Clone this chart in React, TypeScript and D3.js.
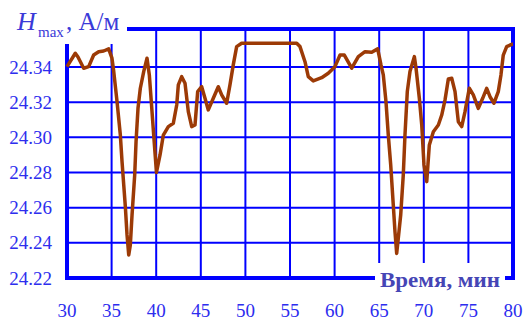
import React from "react";
import * as d3 from "d3";

const times = [30.0, 30.93, 31.23, 31.87, 32.43, 32.99, 33.55, 34.11, 34.67, 35.04,
  35.24, 35.61, 35.98, 36.17, 36.36, 36.54, 36.73, 36.92, 37.10, 37.29,
  37.59, 37.74, 37.96, 38.22, 38.60, 38.97, 39.23, 39.45, 39.72, 40.03,
  40.43, 40.80, 41.36, 41.92, 42.30, 42.48, 42.86, 43.23, 43.60, 43.98,
  44.35, 44.65, 45.10, 45.47, 45.84, 46.40, 46.96, 47.34, 47.90, 48.27,
  48.64, 49.02, 49.58, 55.75, 56.12, 56.68, 57.05, 57.61, 58.55, 59.29,
  60.04, 60.61, 61.09, 61.92, 62.66, 63.41, 64.16, 64.83, 65.20, 65.46,
  65.76, 66.02, 66.29, 66.58, 66.77, 66.96, 67.14, 67.41, 67.70, 67.89,
  68.15, 68.45, 68.94, 69.13, 69.50, 69.77, 70.02, 70.33, 70.62, 71.07,
  71.63, 72.01, 72.38, 72.75, 73.13, 73.50, 73.87, 74.25, 74.62, 75.10,
  75.55, 76.11, 76.60, 77.05, 77.42, 77.87, 78.35, 78.65, 78.91, 79.29,
  79.85, 80.0];

const values = [24.3402, 24.3478, 24.3457, 24.3393, 24.3402, 24.3468, 24.3487, 24.3491, 24.3503, 24.345,
  24.3374, 24.3203, 24.3013, 24.2862, 24.2729, 24.2606, 24.2445, 24.2331, 24.2388, 24.2558,
  24.2786, 24.2975, 24.3165, 24.3279, 24.3374, 24.345, 24.3355, 24.3203, 24.3013, 24.28,
  24.29, 24.3013, 24.3061, 24.308, 24.3184, 24.3298, 24.3345, 24.3308, 24.3146, 24.3061,
  24.307, 24.326, 24.3288, 24.3222, 24.3156, 24.3222, 24.3288, 24.3241, 24.3194, 24.3298,
  24.3412, 24.3516, 24.3535, 24.3535, 24.3516, 24.343, 24.3345, 24.3321, 24.3339, 24.3364,
  24.3402, 24.3468, 24.3468, 24.3393, 24.3459, 24.3487, 24.3484, 24.3503, 24.3412, 24.3355,
  24.3203, 24.3013, 24.2843, 24.2615, 24.2463, 24.234, 24.2426, 24.2558, 24.2786, 24.3013,
  24.326, 24.3374, 24.3459, 24.3393, 24.3222, 24.307, 24.2843, 24.2748, 24.2957, 24.3032,
  24.307, 24.3127, 24.3213, 24.3332, 24.3336, 24.326, 24.3089, 24.3061, 24.3146, 24.3279,
  24.3241, 24.3165, 24.3222, 24.3279, 24.3231, 24.3194, 24.326, 24.3355, 24.3468, 24.3516,
  24.3529, 24.3529];

const xTicks = [30, 35, 40, 45, 50, 55, 60, 65, 70, 75, 80];
const yTicks = [24.22, 24.24, 24.26, 24.28, 24.30, 24.32, 24.34];
const yTitleMain = "H";
const yTitleSub = "max";
const yTitleUnit = ", А/м";
const xTitle = "Время, мин";

export default function App() {
  const left = 67, right = 513, top = 29, bottom = 278;
  const x = d3.scaleLinear().domain([30, 80]).range([left, right]);
  const y = d3.scaleLinear().domain([24.22, 24.34]).range([bottom, 67]);
  const data = times.map((t, i) => [t, values[i]] as [number, number]);
  const line = d3.line<[number, number]>().x(d => x(d[0])).y(d => y(d[1]));
  const blue = "#0000ff";
  const labelColor = "#2d2dee";
  const font = "'Liberation Serif', 'Times New Roman', serif";

  return (
    <svg width={526} height={320} style={{ position: "absolute", left: 0, top: 0, background: "#fff" }}>
      <rect x={0} y={0} width={526} height={320} fill="#fff" />
      {/* vertical grid */}
      {xTicks.slice(1, -1).map(t => (
        <line key={"vx" + t} x1={x(t)} x2={x(t)} y1={top} y2={bottom} stroke={blue} strokeWidth={2} />
      ))}
      {/* horizontal grid */}
      {yTicks.slice(1).map(v => (
        <line key={"hy" + v} x1={left} x2={right} y1={y(v)} y2={y(v)} stroke={blue} strokeWidth={2} />
      ))}
      {/* frame */}
      <rect x={left} y={top} width={right - left} height={bottom - top} fill="none" stroke={blue} strokeWidth={4} />
      {/* white boxes for titles */}
      <rect x={0} y={0} width={127} height={44} fill="#fff" />
      <rect x={375} y={263} width={130} height={34} fill="#fff" />
      {/* data line */}
      <path d={line(data) || ""} fill="none" stroke="#9c3a06" strokeWidth={3.5} strokeLinejoin="round" />
      {/* y tick labels */}
      {yTicks.map(v => (
        <text key={"yl" + v} x={52} y={y(v)} dy="0.35em" textAnchor="end" fontFamily={font} fontSize={19} fill={labelColor}>
          {v.toFixed(2)}
        </text>
      ))}
      {/* x tick labels */}
      {xTicks.map(t => (
        <text key={"xl" + t} x={x(t)} y={317} textAnchor="middle" fontFamily={font} fontSize={19} fill={labelColor}>
          {t}
        </text>
      ))}
      {/* y title */}
      <text x={17} y={30} fontFamily={font} fontSize={26} fill="#3a3ad8" fontStyle="italic">{yTitleMain}</text>
      <text x={38} y={37} fontFamily={font} fontSize={15} fill="#3a3ad8">{yTitleSub}</text>
      <text x={66} y={30} fontFamily={font} fontSize={25} fill="#3a3ad8" xmlSpace="preserve">{yTitleUnit}</text>
      {/* x title */}
      <text x={380} y={287} fontFamily={font} fontSize={21} fontWeight="bold" fill="#4545b5" textLength={120} lengthAdjust="spacingAndGlyphs">{xTitle}</text>
    </svg>
  );
}
